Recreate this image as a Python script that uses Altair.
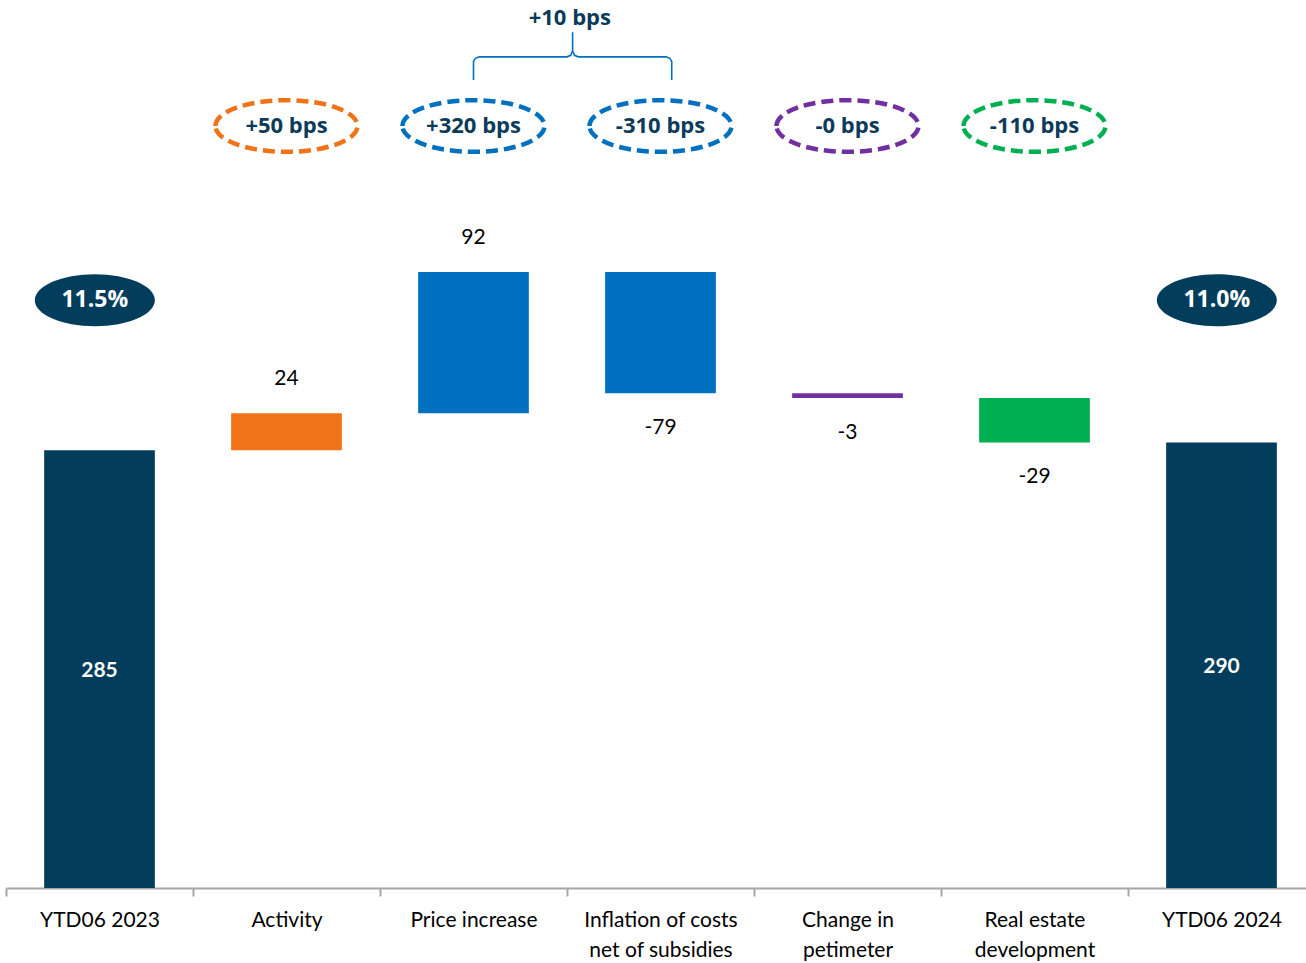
import altair as alt
import pandas as pd

# ---------------- data ----------------
categories = ["YTD06 2023", "Activity", "Price increase",
              "Inflation of costs|net of subsidies", "Change in|petimeter",
              "Real estate|development", "YTD06 2024"]
values = [285, 24, 92, -79, -3, -29, 290]
kinds = ["total", "delta", "delta", "delta", "delta", "delta", "total"]
bar_colors = ["#023E5C", "#F07318", "#0070C0", "#0070C0", "#7030A0", "#00B050", "#023E5C"]

bps_labels = ["+50 bps", "+320 bps", "-310 bps", "-0 bps", "-110 bps"]
bps_index = [1, 2, 3, 4, 5]
bps_colors = ["#F07318", "#0070C0", "#0070C0", "#7030A0", "#00B050"]

margin_labels = ["11.5%", "11.0%"]
margin_index = [0, 6]

bracket_label = "+10 bps"
bracket_index = [2, 3]

# ---------------- derived table ----------------
rows = []
running = 0
for c, v, k, col in zip(categories, values, kinds, bar_colors):
    if k == "total":
        start, end = 0, v
    else:
        start, end = running, running + v
    running = end
    rows.append(dict(cat=c, start=start, end=end, mid=(start + end) / 2,
                     kind=k, color=col, label=str(v), sign=("pos" if v >= 0 else "neg")))
df = pd.DataFrame(rows)

YMAX = 578
yscale = alt.Scale(domain=[0, YMAX], nice=False, zero=True)
XRANGE = [0, 1309]
xband = alt.X("cat:N", sort=categories,
              scale=alt.Scale(range=XRANGE, paddingInner=0, paddingOuter=0),
              axis=alt.Axis(title=None, labelAngle=0, tickBand="extent",
                            labelExpr="split(datum.label, '|')",
                            labelFont="Lato", labelFontSize=21, labelColor="#000000",
                            labelLineHeight=30, labelPadding=13,
                            domainColor="#A6A6A6", domainWidth=2,
                            tickColor="#A6A6A6", tickWidth=2, tickSize=8))

bars = alt.Chart(df).mark_bar(width=alt.RelativeBandSize(0.592)).encode(
    x=xband,
    y=alt.Y("start:Q", scale=yscale, axis=None),
    y2="end:Q",
    color=alt.Color("color:N", scale=None),
)

pos_lab = alt.Chart(df).transform_filter(
    "datum.kind == 'delta' && datum.sign == 'pos'"
).mark_text(font="Lato", fontSize=21, color="#000000", dy=-34, baseline="middle").encode(
    x=alt.X("cat:N", sort=categories), y=alt.Y("end:Q", scale=yscale, axis=None), text="label:N")

neg_lab = alt.Chart(df).transform_filter(
    "datum.kind == 'delta' && datum.sign == 'neg'"
).mark_text(font="Lato", fontSize=21, color="#000000", dy=35, baseline="middle").encode(
    x=alt.X("cat:N", sort=categories), y=alt.Y("end:Q", scale=yscale, axis=None), text="label:N")

tot_lab = alt.Chart(df).transform_filter("datum.kind == 'total'").mark_text(
    font="Lato", fontSize=21, fontWeight="bold", color="#FFFFFF", baseline="middle", dy=2
).encode(x=alt.X("cat:N", sort=categories), y=alt.Y("mid:Q", scale=yscale, axis=None),
         text="label:N")

base = alt.layer(bars, pos_lab, neg_lab, tot_lab)

# ---------------- annotation overlay (quantitative x) ----------------
xq_scale = alt.Scale(domain=[0, len(categories)], range=XRANGE, nice=False, zero=False)

ELL_Y = 496
df_bps = pd.DataFrame(dict(x=[i + 0.5 for i in bps_index], y=[ELL_Y] * len(bps_index),
                           text=bps_labels, color=bps_colors))
dashed_path = "M-1,0 A1,0.364 0 1,1 1,0 A1,0.364 0 1,1 -1,0 Z"
ell = alt.Chart(df_bps).mark_point(
    shape=dashed_path, size=142 * 142, filled=False, strokeWidth=4.5,
    strokeDash=[12, 6], opacity=1
).encode(x=alt.X("x:Q", scale=xq_scale, axis=None),
         y=alt.Y("y:Q", scale=yscale, axis=None),
         stroke=alt.Color("color:N", scale=None))
ell_txt = alt.Chart(df_bps).mark_text(
    font="Open Sans", fontWeight="bold", fontSize=22, color="#0B3A5A", baseline="middle"
).encode(x=alt.X("x:Q", scale=xq_scale, axis=None),
         y=alt.Y("y:Q", scale=yscale, axis=None), text="text:N")

MARG_Y = 382.5
df_m = pd.DataFrame(dict(x=[i + 0.475 for i in margin_index], y=[MARG_Y] * 2, text=margin_labels))
solid_path = "M-1,0 A1,0.433 0 1,1 1,0 A1,0.433 0 1,1 -1,0 Z"
m_ell = alt.Chart(df_m).mark_point(
    shape=solid_path, size=120 * 120, filled=True, color="#023E5C", opacity=1, strokeWidth=0
).encode(x=alt.X("x:Q", scale=xq_scale, axis=None),
         y=alt.Y("y:Q", scale=yscale, axis=None))
m_txt = alt.Chart(df_m).mark_text(
    font="Open Sans", fontWeight="bold", fontSize=23, color="#FFFFFF", baseline="middle"
).encode(x=alt.X("x:Q", scale=xq_scale, axis=None),
         y=alt.Y("y:Q", scale=yscale, axis=None), text="text:N")

# bracket from centre of first to centre of second category
xL = bracket_index[0] + 0.5
xR = bracket_index[1] + 0.56
xM = (xL + xR) / 2
yB, yE, yT = 541, 526, 557
bx = [xL, xL, xL + 0.01, xL + 0.03, xM - 0.03, xM - 0.01, xM, xM,
      xM, xM + 0.01, xM + 0.03, xR - 0.03, xR - 0.01, xR, xR]
by = [yE, yB - 3, yB - 1, yB, yB, yB + 1, yB + 4, yT,
      yB + 4, yB + 1, yB, yB, yB - 1, yB - 3, yE]
df_br = pd.DataFrame(dict(x=bx, y=by, o=list(range(len(bx)))))
bracket = alt.Chart(df_br).mark_line(color="#0070C0", strokeWidth=1.6).encode(
    x=alt.X("x:Q", scale=xq_scale, axis=None),
    y=alt.Y("y:Q", scale=yscale, axis=None),
    order="o:Q")
df_bt = pd.DataFrame(dict(x=[xM - 0.015], y=[566], text=[bracket_label]))
br_txt = alt.Chart(df_bt).mark_text(
    font="Open Sans", fontWeight="bold", fontSize=22, color="#0B3A5A", baseline="middle"
).encode(x=alt.X("x:Q", scale=xq_scale, axis=None),
         y=alt.Y("y:Q", scale=yscale, axis=None), text="text:N")

overlay = alt.layer(ell, ell_txt, m_ell, m_txt, bracket, br_txt)

chart = alt.layer(base, overlay).resolve_scale(x="independent").properties(
    width=1300, height=888,
    autosize=alt.AutoSizeParams(type="none"),
    padding={"left": 6, "top": 0, "right": 0, "bottom": 75},
    background="#FFFFFF",
).configure_view(stroke=None)

chart.save("out.html", embed_options={"renderer": "svg", "actions": False})
